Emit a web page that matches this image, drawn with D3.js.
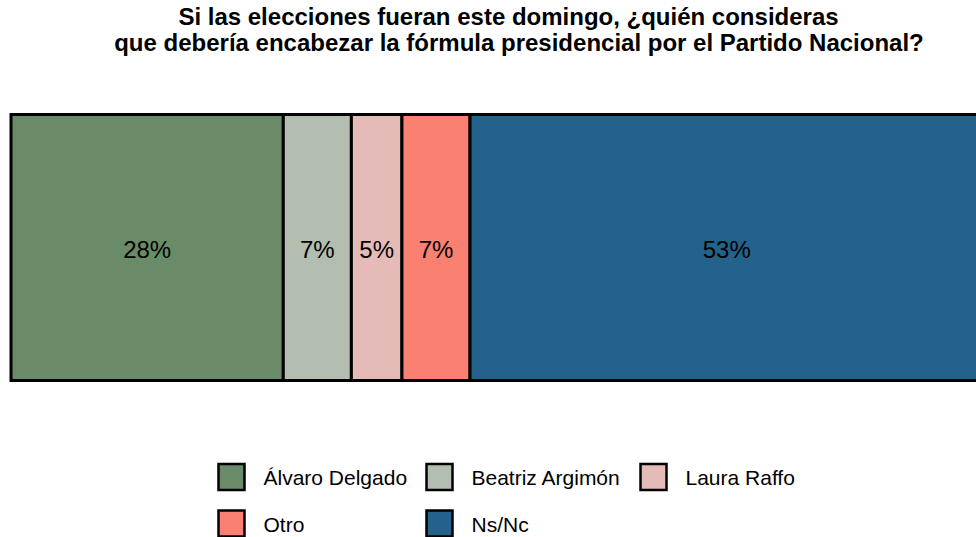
<!DOCTYPE html>
<html>
<head>
<meta charset="utf-8">
<script src="https://cdn.jsdelivr.net/npm/d3@7"></script>
<style>
  html, body { margin: 0; padding: 0; background: #fff; }
  svg { display: block; font-family: "Liberation Sans", Arial, sans-serif; }
</style>
</head>
<body>
<svg id="chart" width="976" height="537"></svg>
<script>
const titleLines = [
  "Si las elecciones fueran este domingo, ¿quién consideras",
  "que debería encabezar la fórmula presidencial por el Partido Nacional?"
];
const categories = ["Álvaro Delgado", "Beatriz Argimón", "Laura Raffo", "Otro", "Ns/Nc"];
const values = [28, 7, 5.2, 7, 52.8];
const colors = ["#6a8b68", "#b3beb0", "#e5bbb8", "#fa8072", "#22628b"];

const svg = d3.select("#chart");

// Title
const titleCenters = [508.5, 519];
const titleY = [25, 51];
svg.selectAll("text.title").data(titleLines).join("text")
  .attr("class", "title")
  .attr("x", (d, i) => titleCenters[i])
  .attr("y", (d, i) => titleY[i])
  .attr("text-anchor", "middle")
  .attr("font-weight", "bold")
  .attr("font-size", 24)
  .attr("fill", "#000")
  .text(d => d);

// Stacked bar
let cum = 0;
const segs = categories.map((c, i) => {
  const s = { cat: c, value: values[i], start: cum, end: cum + values[i], color: colors[i] };
  cum += values[i];
  return s;
});

const x = d3.scaleLinear().domain([0, 100]).range([11, 983.5]);
const y = d3.scaleBand().domain(["bar"]).range([114.5, 380.5]).padding(0);

svg.selectAll("rect.seg").data(segs).join("rect")
  .attr("class", "seg")
  .attr("x", d => x(d.start))
  .attr("y", y("bar"))
  .attr("width", d => x(d.end) - x(d.start))
  .attr("height", y.bandwidth())
  .attr("fill", d => d.color)
  .attr("stroke", "#000")
  .attr("stroke-width", 3);

svg.selectAll("text.lbl").data(segs).join("text")
  .attr("class", "lbl")
  .attr("x", d => (x(d.start) + x(d.end)) / 2)
  .attr("y", y("bar") + y.bandwidth() / 2 + 2)
  .attr("dy", "0.35em")
  .attr("text-anchor", "middle")
  .attr("font-size", 24)
  .attr("fill", "#000")
  .text(d => Math.round(d.value) + "%");

// Legend
const colX = [218.5, 426.5, 640.5];
const rowY = [464, 510.5];
const keySize = 26;
const legend = svg.append("g");
const items = legend.selectAll("g.item").data(segs).join("g")
  .attr("class", "item")
  .attr("transform", (d, i) => `translate(${colX[i % 3]},${rowY[Math.floor(i / 3)]})`);
items.append("rect")
  .attr("width", keySize).attr("height", keySize)
  .attr("fill", d => d.color)
  .attr("stroke", "#000")
  .attr("stroke-width", 2.5);
items.append("text")
  .attr("x", 45)
  .attr("y", keySize / 2 + 1)
  .attr("dy", "0.35em")
  .attr("font-size", 21)
  .attr("fill", "#000")
  .text(d => d.cat);
</script>
</body>
</html>
